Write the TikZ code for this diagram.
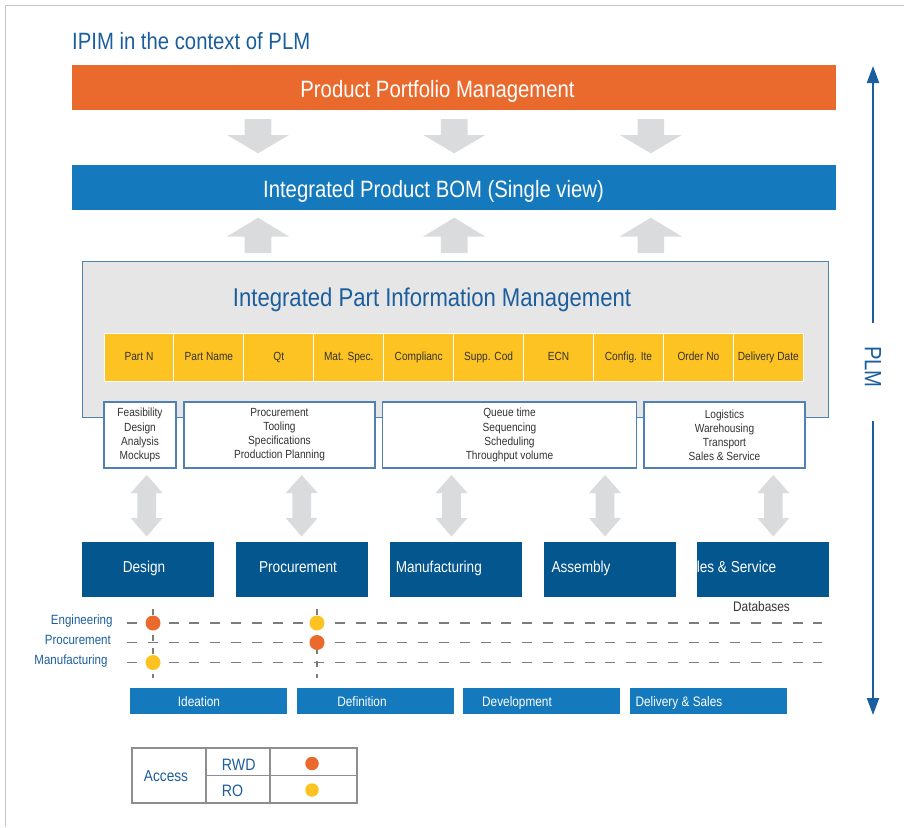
\documentclass[tikz,border=0pt]{standalone}
\usepackage{fontspec}
\setmainfont[FakeStretch=0.86]{Liberation Sans}
\usetikzlibrary{arrows.meta}
\definecolor{ppmorange}{HTML}{EA6A2E}
\definecolor{bomblue}{HTML}{1479BD}
\definecolor{procblue}{HTML}{04568F}
\definecolor{txtblue}{HTML}{1B5E9E}
\definecolor{txtgray}{HTML}{333333}
\definecolor{boxgray}{HTML}{E6E6E6}
\definecolor{arrowgray}{HTML}{DADBDC}
\definecolor{cellyellow}{HTML}{FDC322}
\definecolor{frameblue}{HTML}{4F80B6}
\definecolor{linegray}{HTML}{7C7C7C}
\definecolor{tablegray}{HTML}{8E8E8E}
\definecolor{pagegray}{HTML}{C4C4C4}
\newcommand{\fsz}[1]{\fontsize{#1}{#1}\selectfont}

\begin{document}
\begin{tikzpicture}[x=1pt, y=-1pt,
    flat/.style={text height=0.72em, text depth=0.2em},
    bar/.style={fill=#1, inner sep=0, minimum width=764, minimum height=45},
    bartext/.style={anchor=base, inner sep=0, text=white, font=\fsz{23.6}},
    cell/.style={flat, fill=cellyellow, draw=white, line width=1pt, inner sep=0,
      minimum width=69.9, minimum height=48, text=txtgray, font=\fsz{11.8}},
    taskbox/.style={draw=frameblue, line width=1.2pt, fill=white, inner sep=0,
      minimum height=66, align=center, text=txtgray,
      font={\fontsize{11.8}{14.1}\selectfont}},
    procbox/.style={fill=procblue, inner sep=0, minimum width=132, minimum height=55},
    proctext/.style={flat, inner sep=0, text=white, font=\fsz{15.8}},
    phasebox/.style={fill=bomblue, inner sep=0, minimum width=157, minimum height=26},
    phasetext/.style={flat, inner sep=0, text=white, font=\fsz{13.75}},
    rowlabel/.style={flat, anchor=east, inner sep=0, text=txtblue, font=\fsz{13.4}},
    gridline/.style={linegray, line width=1.2pt, dash pattern=on 10pt off 10.8pt},
    gridcol/.style={linegray, line width=1.2pt, dash pattern=on 6pt off 7pt},
    dot/.style={circle, fill=#1, inner sep=0, minimum size=15},
    tcell/.style={draw=tablegray, line width=1.1pt, inner sep=0},
    ttext/.style={anchor=base west, inner sep=0, text=txtblue, font=\fsz{16.5}},
    plmline/.style={txtblue, line width=2pt}]
\useasboundingbox (0,0) rectangle (904,827);

% page frame
\draw[pagegray, line width=1.8pt] (5.5,827) -- (5.5,5.5) -- (904,5.5);

% title
\node[anchor=base west, inner sep=0, text=txtblue, font=\fsz{23.6}] (title) at (72,49.5)
  {IPIM in the context of PLM};

% Portfolio and BOM bars
\node[bar=ppmorange] (ppm) at (454,87.5) {};
\node[bartext] (ppmtext) at (437.5,97) {Product Portfolio Management};
\node[bar=bomblue] (bom) at (454,187.5) {};
\node[bartext] (bomtext) at (433.5,197) {Integrated Product BOM (Single view)};

% block arrows between the bars
\foreach \c in {258,454.2,650.8}{
  \fill[arrowgray] (\c-13.3,119) -- (\c+13.3,119) -- (\c+13.3,135) -- (\c+31,135)
    -- (\c,153.3) -- (\c-31,135) -- (\c-13.3,135) -- cycle;
  \fill[arrowgray] (\c,217.7) -- (\c+31,236.5) -- (\c+13.3,236.5) -- (\c+13.3,253)
    -- (\c-13.3,253) -- (\c-13.3,236.5) -- (\c-31,236.5) -- cycle;
}

% Integrated Part Information Management
\node[draw=frameblue, line width=1pt, fill=boxgray, inner sep=0,
  minimum width=746, minimum height=156] (ipim) at (455.5,339) {};
\node[anchor=base, inner sep=0, text=txtblue, font=\fsz{25.7}] (ipimtext) at (432,306.7)
  {Integrated Part Information Management};

% attribute cells
\foreach \t [count=\i] in {Part N, Part Name, Qt, Mat. Spec., Complianc, Supp. Cod,
    ECN, Config. Ite, Order No, Delivery Date}
  \node[cell] (cell\i) at ({104+(\i-0.5)*69.93},357.5) {\t};

% task boxes
\node[taskbox, minimum width=72] (feas) at (140,435)
  {Feasibility\\Design\\Analysis\\Mockups};
\node[taskbox, minimum width=191] (tool) at (279.5,435)
  {Procurement\\Tooling\\Specifications\\Production Planning};
\node[taskbox, minimum width=254] (queue) at (509.5,435)
  {Queue time\\Sequencing\\Scheduling\\Throughput volume};
\node[taskbox, minimum width=161] (logi) at (724.5,435)
  {Logistics\\Warehousing\\Transport\\Sales \& Service};

% double block arrows
\foreach \c in {146.7,301.7,451.5,605,773.3}
  \fill[arrowgray] (\c,475) -- (\c+16,493) -- (\c+9.3,493) -- (\c+9.3,518)
    -- (\c+16,518) -- (\c,536.5) -- (\c-16,518) -- (\c-9.3,518) -- (\c-9.3,493)
    -- (\c-16,493) -- cycle;

% process boxes
\foreach \n/\bx/\tx/\t in {design/148/144/Design, proc/302/298/Procurement,
    manu/456/438.8/Manufacturing, assy/610/581/Assembly, sales/763/736.5/les \& Service}{
  \node[procbox] (\n) at (\bx,569.5) {};
  \node[proctext] (\n text) at (\tx,569.8) {\t};
}
\node[flat, inner sep=0, text=txtgray, font=\fsz{13.8}] (db) at (761.5,608.4) {Databases};

% access grid
\foreach \r/\y/\lx in {Engineering/623/112.7, Procurement/642.5/111, Manufacturing/662.5/107.7}{
  \node[rowlabel] (\r) at (\lx,\y-0.8) {\r};
  \draw[gridline] (127,\y) -- (822,\y);
}
\foreach \x in {153,317}
  \draw[gridcol] (\x,609) -- (\x,678);

% access points
\node[dot=ppmorange] (eng1) at (153,623) {};
\node[dot=cellyellow] (man1) at (153,662.5) {};
\node[dot=cellyellow] (eng2) at (317,623) {};
\node[dot=ppmorange] (pro2) at (317,642.5) {};

% phases
\foreach \n/\bx/\tx/\t in {idea/208.5/199/Ideation, defi/375.5/362/Definition,
    devel/541.5/517/Development, deliv/708.5/679/Delivery \& Sales}{
  \node[phasebox] (\n) at (\bx,701) {};
  \node[phasetext] (\n text) at (\tx,703.8) {\t};
}

% legend
\node[tcell, minimum width=74, minimum height=55] (access) at (169,775.5) {};
\node[tcell, minimum width=64, minimum height=27.5] (rwd) at (238,761.75) {};
\node[tcell, minimum width=64, minimum height=27.5] (ro) at (238,789.25) {};
\node[tcell, minimum width=87, minimum height=27.5] (rwdcell) at (313.5,761.75) {};
\node[tcell, minimum width=87, minimum height=27.5] (rocell) at (313.5,789.25) {};
\node[ttext, anchor=base, font=\fsz{15.9}] (accesstext) at (166,781) {Access};
\node[ttext] (rwdtext) at (221.7,770.7) {RWD};
\node[ttext] (rotext) at (221.7,796.7) {RO};
\node[dot=ppmorange, minimum size=13.5] (rwddot) at (312,763.5) {};
\node[dot=cellyellow, minimum size=13.5] (rodot) at (312,790) {};

% PLM arrow
\node[rotate=-90, inner sep=0, text=txtblue, font=\fsz{23.6}] (plm) at (873,367) {PLM};
\coordinate (plmtop) at (873,66);
\coordinate (plmup) at (873,322.5);
\coordinate (plmdown) at (873,421);
\coordinate (plmbot) at (873,715);
\draw[plmline, -{Triangle[width=12pt, length=17pt]}] (plmup) -- (plmtop);
\draw[plmline, -{Triangle[width=12pt, length=17pt]}] (plmdown) -- (plmbot);
\end{tikzpicture}
\end{document}
